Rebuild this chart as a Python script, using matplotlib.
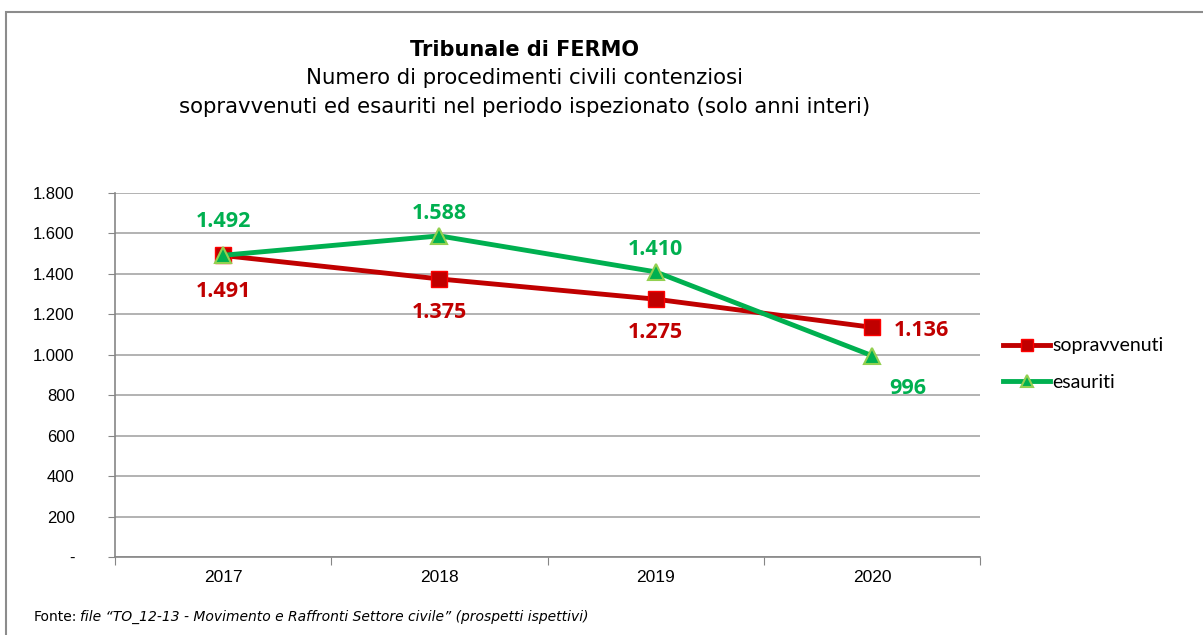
import numpy as np
import matplotlib.pyplot as plt
from matplotlib.patches import Rectangle

# === Data ===
years = ["2017", "2018", "2019", "2020"]
sopravvenuti = [1491, 1375, 1275, 1136]
esauriti = [1492, 1588, 1410, 996]

# label offsets in points (dx, dy) for each series
red_offsets = [(0, -26), (0, -24), (0, -24), (36, -2)]
green_offsets = [(0, 24), (0, 16), (0, 16), (26, -24)]


def fmt(v):
    return f"{v:,}".replace(",", ".")


RED = "#C00000"
GREEN = "#00B050"

fig = plt.figure(figsize=(12.03, 6.35), dpi=100)
ax = fig.add_axes([115 / 1203, 1 - 557 / 635, (980 - 115) / 1203, (557 - 193) / 635])

# outer frame
fig.patches.append(Rectangle((6 / 1203, -0.05), 1.1, 1 - 12 / 635 + 0.05,
                             transform=fig.transFigure, fill=False,
                             edgecolor="#8c8c8c", linewidth=1.5))

x = np.arange(len(years)) + 0.5
ax.plot(x, sopravvenuti, color=RED, linewidth=3.5, marker="s", markersize=11,
        markerfacecolor=RED, markeredgecolor="#FF0000", markeredgewidth=1,
        label="sopravvenuti", zorder=3)
ax.plot(x, esauriti, color=GREEN, linewidth=3.5, marker="^", markersize=11,
        markerfacecolor=GREEN, markeredgecolor="#92D050", markeredgewidth=1.5,
        label="esauriti", zorder=4)

for xi, v, off in zip(x, sopravvenuti, red_offsets):
    ax.annotate(fmt(v), (xi, v), xytext=off, textcoords="offset points",
                ha="center", va="center", color=RED, fontsize=15.5,
                fontweight="bold", family="Open Sans")
for xi, v, off in zip(x, esauriti, green_offsets):
    ax.annotate(fmt(v), (xi, v), xytext=off, textcoords="offset points",
                ha="center", va="center", color=GREEN, fontsize=15.5,
                fontweight="bold", family="Open Sans")

ax.set_xlim(0, 4)
ax.set_ylim(0, 1800)
yt = np.arange(0, 1801, 200)
ax.set_yticks(yt)
ax.set_yticklabels(["-"] + [fmt(v) for v in yt[1:]], fontsize=12, family="Liberation Sans")
ax.set_xticks(np.arange(0, 5))
ax.set_xticklabels([])
ax.set_xticks(x, minor=True)
ax.set_xticklabels(years, minor=True, fontsize=12.5, family="Liberation Sans")
ax.tick_params(axis="x", which="minor", length=0, pad=9)
ax.tick_params(axis="x", which="major", length=6, color="#868686", direction="out")
ax.tick_params(axis="y", length=5, color="#868686", pad=24)
for lbl in ax.get_yticklabels():
    lbl.set_horizontalalignment("right")

ax.grid(axis="y", color="#a6a6a6", linewidth=1.2)
ax.set_axisbelow(True)
for s in ["top", "right"]:
    ax.spines[s].set_visible(False)
for s in ["left", "bottom"]:
    ax.spines[s].set_color("#868686")
    ax.spines[s].set_linewidth(1.2)

leg = fig.legend(loc="upper left", bbox_to_anchor=(986 / 1203, 1 - 320 / 635),
                 frameon=False, handlelength=2.4, handletextpad=0.1,
                 labelspacing=1.0, markerscale=0.85, prop={"family": "Lato", "size": 14})

# titles
fig.text(0.436, 1 - 50 / 635, "Tribunale di FERMO", ha="center", va="center",
         fontsize=15, fontweight="bold", family="DejaVu Sans")
fig.text(0.436, 1 - 78 / 635, "Numero di procedimenti civili contenziosi", ha="center",
         va="center", fontsize=15.3, family="DejaVu Sans")
fig.text(0.436, 1 - 107 / 635,
         "sopravvenuti ed esauriti nel periodo ispezionato (solo anni interi)",
         ha="center", va="center", fontsize=15.3, family="DejaVu Sans")

fig.text(34 / 1203, 1 - 617 / 635, "Fonte:", ha="left", va="center", fontsize=10,
         family="DejaVu Sans")
fig.text(80 / 1203, 1 - 617 / 635,
         "file \u201cTO_12-13 - Movimento e Raffronti Settore civile\u201d (prospetti ispettivi)",
         ha="left", va="center", fontsize=10, family="DejaVu Sans", style="italic")

fig.savefig("out.png", dpi=100)
